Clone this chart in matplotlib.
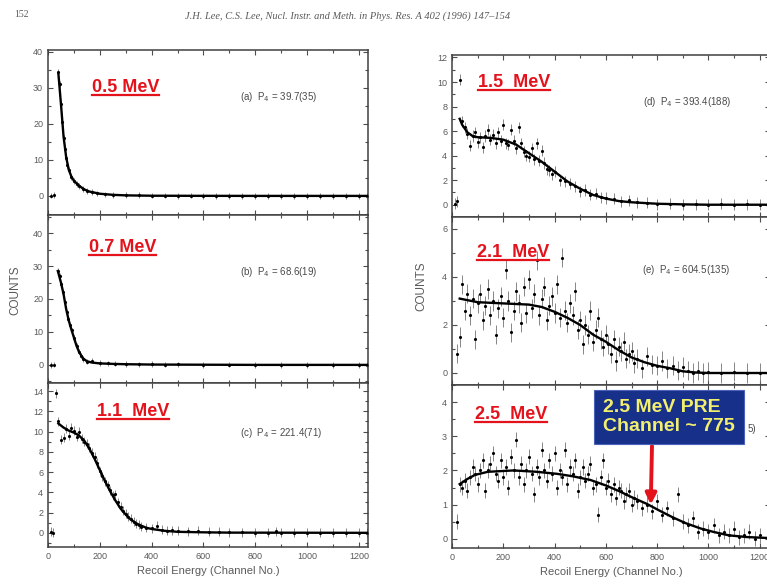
import matplotlib
matplotlib.use("Agg")
import matplotlib.pyplot as plt
from matplotlib.lines import Line2D
from matplotlib.ticker import MultipleLocator

W, H = 767, 587

# ── data (channel, counts) ───────────────────────────────────────────────────
ch_a = [10, 25, 40, 45, 50, 55, 60, 65, 70, 75, 80, 90, 100, 110, 120, 135, 150, 170, 190, 220,
        250, 300, 350, 400, 450, 500, 550, 600, 650, 700, 750, 800, 850, 900, 950, 1000, 1050,
        1100, 1150, 1200, 1230]
cnt_a = [0.1, 0.2, 34.5, 31.0, 25.5, 20.5, 16.0, 13.0, 10.5, 8.6, 7.2, 5.3, 4.1, 3.4, 2.7, 2.0,
         1.4, 1.0, 0.7, 0.4, 0.3, 0.2, 0.15, 0.1, 0.1, 0.05, 0.1, 0.0, 0.05, 0.0, -0.05, 0.0,
         0.05, -0.05, 0.0, 0.0, -0.1, 0.0, -0.05, 0.0, 0.0]
fit_ch_a = [40, 50, 60, 70, 80, 90, 100, 120, 140, 160, 200, 250, 300, 400, 600, 800, 1000, 1235]
fit_a = [34.0, 25.5, 16.5, 10.8, 7.3, 5.4, 4.2, 2.8, 1.8, 1.2, 0.6, 0.3, 0.15, 0.05, 0.02, 0.0, 0.0, 0.0]

ch_b = [10, 25, 38, 45, 52, 58, 65, 72, 78, 85, 91, 100, 110, 120, 128, 136, 150, 170, 200, 230,
        260, 300, 350, 400, 450, 500, 600, 700, 800, 900, 1000, 1100, 1200, 1230]
cnt_b = [0.0, 0.1, 28.5, 27.0, 24.5, 22.0, 19.0, 16.0, 14.0, 12.0, 10.5, 8.3, 5.8, 4.0, 2.8, 1.8,
         1.0, 1.3, 0.6, 0.5, 0.4, 0.3, 0.2, 0.3, 0.1, 0.2, 0.0, 0.1, 0.0, 0.0, 0.0, 0.0, 0.0, 0.0]
fit_ch_b = [38, 50, 60, 70, 80, 90, 100, 110, 120, 135, 150, 170, 200, 250, 300, 400, 600, 800, 1235]
fit_b = [28.5, 25.0, 21.5, 17.0, 13.5, 10.8, 8.3, 5.8, 3.9, 2.0, 1.1, 0.7, 0.45, 0.3, 0.2, 0.1, 0.05, 0.0, 0.0]

ch_c = [10, 20, 30, 40, 50, 60, 70, 80, 90, 100, 110, 120, 130, 140, 150, 160, 170, 180, 190, 200,
        210, 220, 230, 240, 250, 260, 270, 280, 290, 300, 310, 320, 330, 340, 350, 360, 380, 400,
        420, 440, 460, 480, 500, 540, 580, 620, 660, 700, 750, 800, 850, 880, 900, 950, 1000,
        1050, 1100, 1150, 1200, 1230]
cnt_c = [0.1, 0.0, 13.8, 11.0, 9.2, 9.4, 10.3, 9.6, 10.4, 10.1, 9.5, 10.0, 9.3, 9.0, 8.8, 8.4,
         7.9, 7.5, 6.9, 6.1, 5.6, 5.1, 4.7, 4.2, 3.7, 3.8, 3.0, 2.6, 2.2, 1.9, 1.6, 1.4, 1.1, 0.9,
         0.8, 0.6, 0.5, 0.45, 0.7, 0.3, 0.2, 0.25, 0.2, 0.15, 0.2, 0.1, 0.1, 0.05, 0.05, 0.0, 0.0,
         0.15, 0.0, 0.0, 0.0, 0.0, 0.0, 0.0, 0.0, 0.0]
fit_ch_c = [40, 60, 80, 100, 120, 140, 160, 180, 200, 220, 240, 260, 280, 300, 320, 340, 360, 380,
            400, 450, 500, 600, 700, 1235]
fit_c = [10.8, 10.4, 10.1, 9.9, 9.6, 9.1, 8.3, 7.3, 6.2, 5.1, 4.1, 3.2, 2.4, 1.8, 1.3, 0.95, 0.7,
         0.5, 0.38, 0.2, 0.1, 0.05, 0.02, 0.0]

ch_d = [10, 20, 30, 40, 50, 60, 70, 80, 90, 100, 110, 120, 130, 140, 150, 160, 170, 180, 190, 200,
        210, 220, 230, 240, 250, 260, 270, 280, 290, 300, 310, 320, 330, 340, 350, 360, 370, 380,
        390, 400, 420, 440, 460, 480, 500, 520, 540, 560, 580, 600, 630, 660, 690, 720, 760, 800,
        850, 900, 950, 1000, 1050, 1100, 1150, 1200, 1235]
cnt_d = [0.1, 0.3, 10.2, 6.8, 6.3, 5.8, 4.8, 5.6, 5.9, 5.1, 5.5, 4.7, 5.6, 6.1, 5.3, 5.7, 5.0,
         5.9, 5.2, 6.5, 5.0, 4.9, 6.1, 5.2, 4.6, 6.3, 5.0, 4.3, 4.0, 3.9, 4.6, 3.7, 5.0, 3.6, 4.4,
         3.4, 2.9, 2.8, 2.5, 2.7, 2.0, 1.9, 1.7, 1.5, 1.1, 1.2, 0.8, 0.9, 0.6, 0.55, 0.5, 0.3,
         0.35, 0.2, 0.15, 0.05, 0.1, 0.0, 0.05, 0.0, 0.1, 0.0, 0.05, 0.0, 0.0]
fit_ch_d = [30, 40, 60, 80, 100, 150, 200, 250, 300, 350, 400, 450, 500, 550, 600, 650, 700, 800,
            900, 1000, 1240]
fit_d = [7.0, 6.5, 5.9, 5.6, 5.5, 5.45, 5.3, 4.9, 4.2, 3.5, 2.7, 1.9, 1.3, 0.8, 0.5, 0.3, 0.2,
         0.08, 0.03, 0.0, 0.0]

ch_e = [20, 30, 40, 50, 60, 70, 80, 90, 100, 110, 120, 130, 140, 150, 160, 170, 180, 190, 200, 210,
        220, 230, 240, 250, 260, 270, 280, 290, 300, 310, 320, 330, 340, 350, 360, 370, 380, 390,
        400, 410, 420, 430, 440, 450, 460, 470, 480, 490, 500, 510, 520, 530, 540, 550, 560, 570,
        580, 590, 600, 610, 620, 630, 640, 650, 660, 670, 680, 690, 700, 710, 720, 740, 760, 780,
        800, 820, 840, 860, 880, 900, 920, 940, 960, 980, 1000, 1050, 1100, 1150, 1200, 1235]
cnt_e = [0.8, 1.5, 3.7, 2.6, 3.3, 2.4, 3.1, 1.4, 2.9, 3.3, 2.2, 2.8, 3.5, 2.4, 3.0, 1.6, 2.7, 3.2,
         2.3, 4.3, 3.0, 1.7, 2.6, 3.4, 2.9, 2.1, 3.6, 2.5, 3.9, 2.7, 3.3, 4.7, 2.4, 3.1, 3.6, 2.2,
         2.8, 3.2, 2.5, 3.7, 2.3, 4.8, 2.6, 2.1, 2.9, 2.4, 3.4, 1.8, 2.2, 1.2, 2.0, 1.6, 2.6, 1.3,
         1.8, 2.3, 1.4, 1.1, 1.6, 1.2, 0.8, 1.4, 0.5, 1.1, 0.9, 1.3, 0.6, 0.8, 0.9, 0.4, 0.6, 0.2,
         0.7, 0.35, 0.3, 0.5, 0.2, 0.3, 0.1, 0.25, 0.1, 0.0, 0.1, 0.0, 0.05, 0.0, 0.05, 0.0, 0.0, 0.0]
fit_ch_e = [30, 100, 200, 300, 350, 400, 450, 500, 550, 600, 650, 700, 750, 800, 850, 900, 950, 1000, 1240]
fit_e = [3.1, 2.95, 2.9, 2.85, 2.75, 2.55, 2.3, 2.0, 1.6, 1.3, 0.95, 0.65, 0.45, 0.3, 0.2, 0.07,
         0.02, 0.0, 0.0]

ch_f = [20, 30, 40, 50, 60, 70, 80, 90, 100, 110, 120, 130, 140, 150, 160, 170, 180, 190, 200, 210,
        220, 230, 240, 250, 260, 270, 280, 290, 300, 310, 320, 330, 340, 350, 360, 370, 380, 390,
        400, 410, 420, 430, 440, 450, 460, 470, 480, 490, 500, 510, 520, 530, 540, 550, 560, 570,
        580, 590, 600, 610, 620, 630, 640, 650, 660, 670, 680, 690, 700, 710, 720, 740, 760, 780,
        800, 820, 840, 860, 880, 900, 920, 940, 960, 980, 1000, 1020, 1040, 1060, 1080, 1100,
        1120, 1140, 1160, 1180, 1200, 1235]
cnt_f = [0.5, 1.6, 1.5, 1.7, 1.4, 1.8, 2.1, 1.9, 1.6, 2.0, 2.3, 1.4, 2.0, 2.2, 2.5, 1.9, 1.7, 2.3,
         1.8, 2.1, 1.5, 2.4, 2.0, 2.9, 1.8, 2.2, 1.6, 2.0, 2.4, 1.9, 1.3, 2.1, 1.8, 2.6, 2.0, 1.7,
         2.3, 1.9, 2.5, 1.5, 2.0, 1.8, 2.6, 1.6, 2.1, 1.9, 2.3, 1.4, 1.8, 2.1, 1.7, 1.9, 2.2, 1.5,
         1.6, 0.7, 1.8, 2.3, 1.5, 1.7, 1.3, 1.6, 1.2, 1.5, 1.4, 1.1, 1.3, 1.4, 1.0, 1.2, 1.1, 0.9,
         1.0, 0.8, 1.1, 0.7, 0.9, 0.6, 1.3, 0.5, 0.4, 0.6, 0.2, 0.3, 0.2, 0.4, 0.1, 0.2, 0.1, 0.3,
         0.05, 0.1, 0.2, 0.0, 0.1, 0.0]
fit_ch_f = [30, 60, 90, 140, 240, 330, 410, 470, 540, 600, 650, 700, 760, 810, 860, 910, 970, 1020,
            1080, 1150, 1240]
fit_f = [1.6, 1.75, 1.87, 1.96, 2.0, 1.96, 1.9, 1.83, 1.72, 1.56, 1.4, 1.22, 1.02, 0.82, 0.63,
         0.46, 0.3, 0.2, 0.1, 0.05, 0.02]

energies = ["0.5 MeV", "0.7 MeV", "1.1  MeV", "1.5  MeV", "2.1  MeV", "2.5  MeV"]
p4_text = ["(a)  P$_4$ = 39.7(35)", "(b)  P$_4$ = 68.6(19)", "(c)  P$_4$ = 221.4(71)",
           "(d)  P$_4$ = 393.4(188)", "(e)  P$_4$ = 604.5(135)", "5)"]
yticks = [[0, 10, 20, 30, 40], [0, 10, 20, 30, 40], [0, 2, 4, 6, 8, 10, 12, 14],
          [0, 2, 4, 6, 8, 10, 12], [0, 2, 4, 6], [0, 1, 2, 3, 4]]
xticks = [0, 200, 400, 600, 800, 1000, 1200]
pre_channel = 775
pre_counts = 1.0

# ── layout (pixel boxes: left, top, right, bottom) ───────────────────────────
boxes = [(48, 50, 368, 215), (48, 215, 368, 383), (48, 383, 368, 547),
         (452, 55, 770, 217), (452, 217, 770, 385), (452, 385, 770, 548)]
ylims = [(-5.3, 40.5), (-5.5, 45.5), (-1.4, 14.8), (-1.0, 12.2), (-0.5, 6.5), (-0.27, 4.5)]
yminor = [5, 5, 1, 1, 1, 0.5]
errs = [0.8, 0.8, 0.45, 0.45, 0.4, 0.22]
label_pos = [(92, 92), (89, 252), (97, 416), (478, 87), (477, 257), (475, 419)]
p4_pos = [(240, 100), (240, 275), (240, 436), (643, 105), (642, 273), (748, 432)]

data = [(ch_a, cnt_a, fit_ch_a, fit_a), (ch_b, cnt_b, fit_ch_b, fit_b), (ch_c, cnt_c, fit_ch_c, fit_c),
        (ch_d, cnt_d, fit_ch_d, fit_d), (ch_e, cnt_e, fit_ch_e, fit_e), (ch_f, cnt_f, fit_ch_f, fit_f)]

RED = "#e3121b"
GREY = "#5a5a5a"
plt.rcParams["font.family"] = ["Liberation Sans", "DejaVu Sans"]

fig = plt.figure(figsize=(W / 100, H / 100), dpi=100)


def fx(px):
    return px / W


def fy(py):
    return 1 - py / H


axes = []
for i, (l, t, r, b) in enumerate(boxes):
    ax = fig.add_axes([fx(l), fy(b), fx(r) - fx(l), (b - t) / H])
    ch, cnt, fch, fval = data[i]
    ax.errorbar(ch, cnt, yerr=errs[i], fmt=".", ms=2.5, color="k", ecolor="0.45",
                elinewidth=0.6, capsize=0, zorder=2)
    ax.plot(fch, fval, color="k", lw=1.7, zorder=3)
    ax.set_xlim(0, 1240 if i >= 3 else 1235)
    ax.set_ylim(*ylims[i])
    ax.set_yticks(yticks[i])
    ax.set_xticks(xticks)
    ax.xaxis.set_minor_locator(MultipleLocator(100))
    ax.yaxis.set_minor_locator(MultipleLocator(yminor[i]))
    ax.tick_params(which="both", direction="in", top=True, right=True, colors="0.3",
                   labelcolor=GREY, labelsize=6.5, length=3.5, width=0.8)
    ax.tick_params(which="minor", length=2)
    if i not in (2, 5):
        ax.tick_params(labelbottom=False)
    for s in ax.spines.values():
        s.set_color("0.25")
        s.set_linewidth(1.1)
    axes.append(ax)

for ax in (axes[2], axes[5]):
    ax.set_xlabel("Recoil Energy (Channel No.)", fontsize=8, color=GREY, labelpad=4)

fig.text(fx(15), fy(290), "COUNTS", rotation=90, fontsize=8.5, color=GREY, ha="center", va="center")
fig.text(fx(421), fy(286), "COUNTS", rotation=90, fontsize=8.5, color=GREY, ha="center", va="center")

# page header of the scanned paper
fig.text(fx(14), fy(17), "152", fontsize=7, color=GREY, family="Liberation Serif", va="baseline")
fig.text(fx(348), fy(19), "J.H. Lee, C.S. Lee, Nucl. Instr. and Meth. in Phys. Res. A 402 (1996) 147–154",
         fontsize=7.5, color=GREY, family="Liberation Serif", style="italic", ha="center", va="baseline")

# P4 annotations
for txt, (px, py) in zip(p4_text, p4_pos):
    fig.text(fx(px), fy(py), txt, fontsize=7, color="#4a4a4a", va="baseline", zorder=1)

# red energy labels with underline
red_labels = []
for txt, (px, py) in zip(energies, label_pos):
    t = fig.text(fx(px), fy(py), txt, fontsize=13, color=RED, weight="bold", va="baseline")
    red_labels.append((t, py))

fig.canvas.draw()
rend = fig.canvas.get_renderer()
for t, py in red_labels:
    bb = t.get_window_extent(rend)
    fig.add_artist(Line2D([bb.x0 / W, bb.x1 / W], [fy(py + 3), fy(py + 3)],
                          transform=fig.transFigure, color=RED, lw=1.6))

# PRE annotation box + arrow down to the spectrum
ax_f = axes[5]
ax_f.annotate("", xy=(pre_channel, pre_counts),
              xytext=(fx(652), fy(446)), textcoords="figure fraction", zorder=5,
              arrowprops=dict(arrowstyle="-|>", color=RED, lw=2.8, mutation_scale=16,
                              shrinkA=0, shrinkB=0))
fig.text(fx(603), fy(417), "2.5 MeV PRE\nChannel ~ 775", fontsize=14, weight="bold",
         color="#f2ef6e", va="center", ha="left", linespacing=1.12, zorder=6,
         bbox=dict(boxstyle="square,pad=0.45", fc="#17308a", ec="#4a63b8", lw=0.8))

fig.savefig("out.png", dpi=100)
